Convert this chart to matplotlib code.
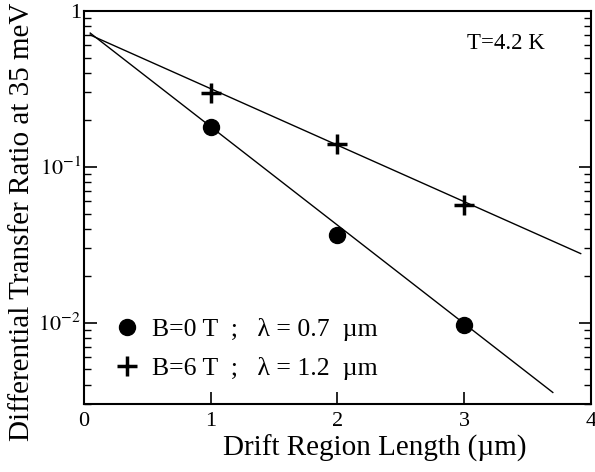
import numpy as np
import matplotlib
matplotlib.use("Agg")
import matplotlib.pyplot as plt
from matplotlib.ticker import FixedLocator, FixedFormatter, LogLocator, NullFormatter

plt.rcParams["font.family"] = ["Liberation Serif", "DejaVu Serif"]
plt.rcParams["mathtext.fontset"] = "stix"

# measured points
length = [1, 2, 3]
ratio_b0 = [0.18, 0.0366, 0.0097]
ratio_b6 = [0.298, 0.140, 0.057]

# exponential fit lines (straight on log axis), end points
fit_b0_x = [0.05, 3.70]
fit_b0_y = [0.72, 0.00356]
fit_b6_x = [0.05, 3.92]
fit_b6_y = [0.70, 0.0277]

label_b0 = "B=0 T  ;   \u03bb = 0.7  \u00b5m"
label_b6 = "B=6 T  ;   \u03bb = 1.2  \u00b5m"

fig = plt.figure(figsize=(5.95, 4.72), dpi=100)
ax = fig.add_axes([0.141, 0.144, 0.852, 0.833])

ax.plot(fit_b0_x, fit_b0_y, color="black", linewidth=1.0)
ax.plot(fit_b6_x, fit_b6_y, color="black", linewidth=1.0)
ax.plot(length, ratio_b0, linestyle="none", marker="o", markersize=11.5,
        color="black", label=label_b0)
ax.plot(length, ratio_b6, linestyle="none", marker="+", markersize=15,
        markeredgewidth=2.5, color="black", label=label_b6)

ax.set_yscale("log")
ax.set_xlim(0, 4)
ax.set_ylim(0.003, 1)

ax.set_xticks([0, 1, 2, 3, 4])
ax.yaxis.set_major_locator(FixedLocator([0.01, 0.1, 1]))
ax.yaxis.set_major_formatter(FixedFormatter([r"$10^{-2}$", r"$10^{-1}$", "1"]))
ax.yaxis.set_minor_locator(LogLocator(base=10, subs=np.arange(2, 10)))
ax.yaxis.set_minor_formatter(NullFormatter())

ax.tick_params(axis="both", which="major", direction="in", length=9, width=1.2,
               labelsize=16)
ax.tick_params(axis="x", which="major", pad=6)
ax.tick_params(axis="y", which="major", pad=2)
ax.tick_params(axis="y", which="both", right=True)
ax.tick_params(axis="y", which="minor", direction="in", length=5, width=1.0)
for sp in ax.spines.values():
    sp.set_linewidth(1.5)

ax.set_xlabel("Drift Region Length (\u00b5m)", fontsize=21, va="center")
ax.xaxis.set_label_coords(0.574, -0.112)
ax.set_ylabel("Differential Transfer Ratio at 35 meV", fontsize=21)
ax.yaxis.set_label_coords(-0.097, 0.463)

ax.text(3.02, 0.62, "T=4.2 K", fontsize=16.5, ha="left", va="center")

ax.legend(loc="lower left", bbox_to_anchor=(0.025, 0.015), frameon=False,
          fontsize=18.5, handlelength=1.0, handletextpad=0.45, labelspacing=0.62,
          borderpad=0.2)

fig.savefig("out.png", dpi=100)
